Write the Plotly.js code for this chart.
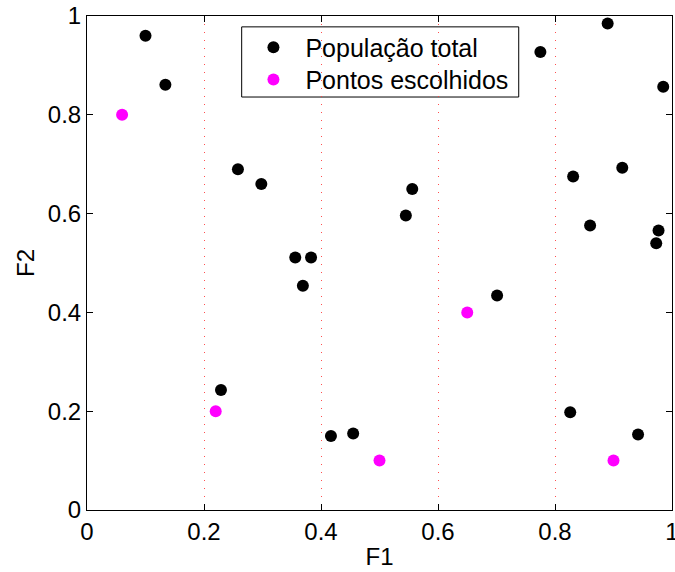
<!DOCTYPE html>
<html>
<head>
<meta charset="utf-8">
<script src="https://cdn.plot.ly/plotly-3.0.1.min.js"></script>
<style>
  html, body { margin: 0; padding: 0; background: #fff; }
  #chart { width: 675px; height: 572px; }
</style>
</head>
<body>
<div id="chart"></div>
<script>
// Whole population in objective space (F1, F2)
const popF1 = [0.100, 0.134, 0.258, 0.298, 0.356, 0.383, 0.369, 0.229, 0.417, 0.455,
               0.545, 0.556, 0.701, 0.775, 0.890, 0.985, 0.915, 0.831, 0.860, 0.977,
               0.973, 0.826, 0.942];
const popF2 = [0.960, 0.861, 0.690, 0.660, 0.511, 0.511, 0.454, 0.243, 0.150, 0.155,
               0.596, 0.650, 0.434, 0.927, 0.985, 0.857, 0.693, 0.675, 0.576, 0.566,
               0.540, 0.198, 0.153];

// Selected points
const selF1 = [0.06, 0.22, 0.50, 0.65, 0.90];
const selF2 = [0.80, 0.20, 0.10, 0.40, 0.10];

const seriesNames = ['População total', 'Pontos escolhidos'];
const xTitle = 'F1';
const yTitle = 'F2';

const FONT = 'Liberation Sans, Arial, Helvetica, sans-serif';

const traces = [
  {
    x: popF1, y: popF2, mode: 'markers', type: 'scatter', name: seriesNames[0],
    marker: { color: '#000000', size: 12 }, legend: 'legend'
  },
  {
    x: selF1, y: selF2, mode: 'markers', type: 'scatter', name: seriesNames[1],
    marker: { color: '#ff00ff', size: 12 }, legend: 'legend2'
  }
];

const axisCommon = {
  range: [0, 1],
  dtick: 0.2,
  showline: true,
  linecolor: '#000',
  linewidth: 1,
  mirror: 'ticks',
  ticks: 'inside',
  ticklen: 6,
  tickcolor: '#000',
  zeroline: false,
  ticklabeloverflow: 'allow',
  tickfont: { family: FONT, size: 24, color: '#000' },
  fixedrange: true
};

// one legend per row, inside a shared frame
const legendCommon = {
  xanchor: 'left', yanchor: 'middle',
  borderwidth: 0, bgcolor: 'rgba(0,0,0,0)',
  font: { family: FONT, size: 25, color: '#000' },
  itemwidth: 54
};

const layout = {
  width: 675,
  height: 572,
  margin: { l: 87, r: 3, t: 16, b: 62 },
  paper_bgcolor: '#fff',
  plot_bgcolor: '#fff',
  font: { family: FONT, size: 24, color: '#000' },
  showlegend: true,
  xaxis: Object.assign({}, axisCommon, {
    showgrid: true,
    gridcolor: 'rgba(255,60,60,0.9)',
    gridwidth: 1,
    griddash: '1px,7px',
    title: { text: xTitle, font: { family: FONT, size: 24, color: '#000' }, standoff: 4 }
  }),
  yaxis: Object.assign({}, axisCommon, {
    showgrid: false,
    title: { text: yTitle, font: { family: FONT, size: 24, color: '#000' }, standoff: 6 }
  }),
  legend: Object.assign({}, legendCommon, { x: 0.264, y: 0.936 }),
  legend2: Object.assign({}, legendCommon, { x: 0.264, y: 0.871 }),
  shapes: [{
    type: 'rect', xref: 'paper', yref: 'paper',
    x0: 0.2644, x1: 0.738, y0: 0.836, y1: 0.978,
    line: { color: '#000', width: 1 }, fillcolor: '#fff', layer: 'below'
  }]
};

Plotly.newPlot('chart', traces, layout, { displayModeBar: false, staticPlot: true });
</script>
</body>
</html>
